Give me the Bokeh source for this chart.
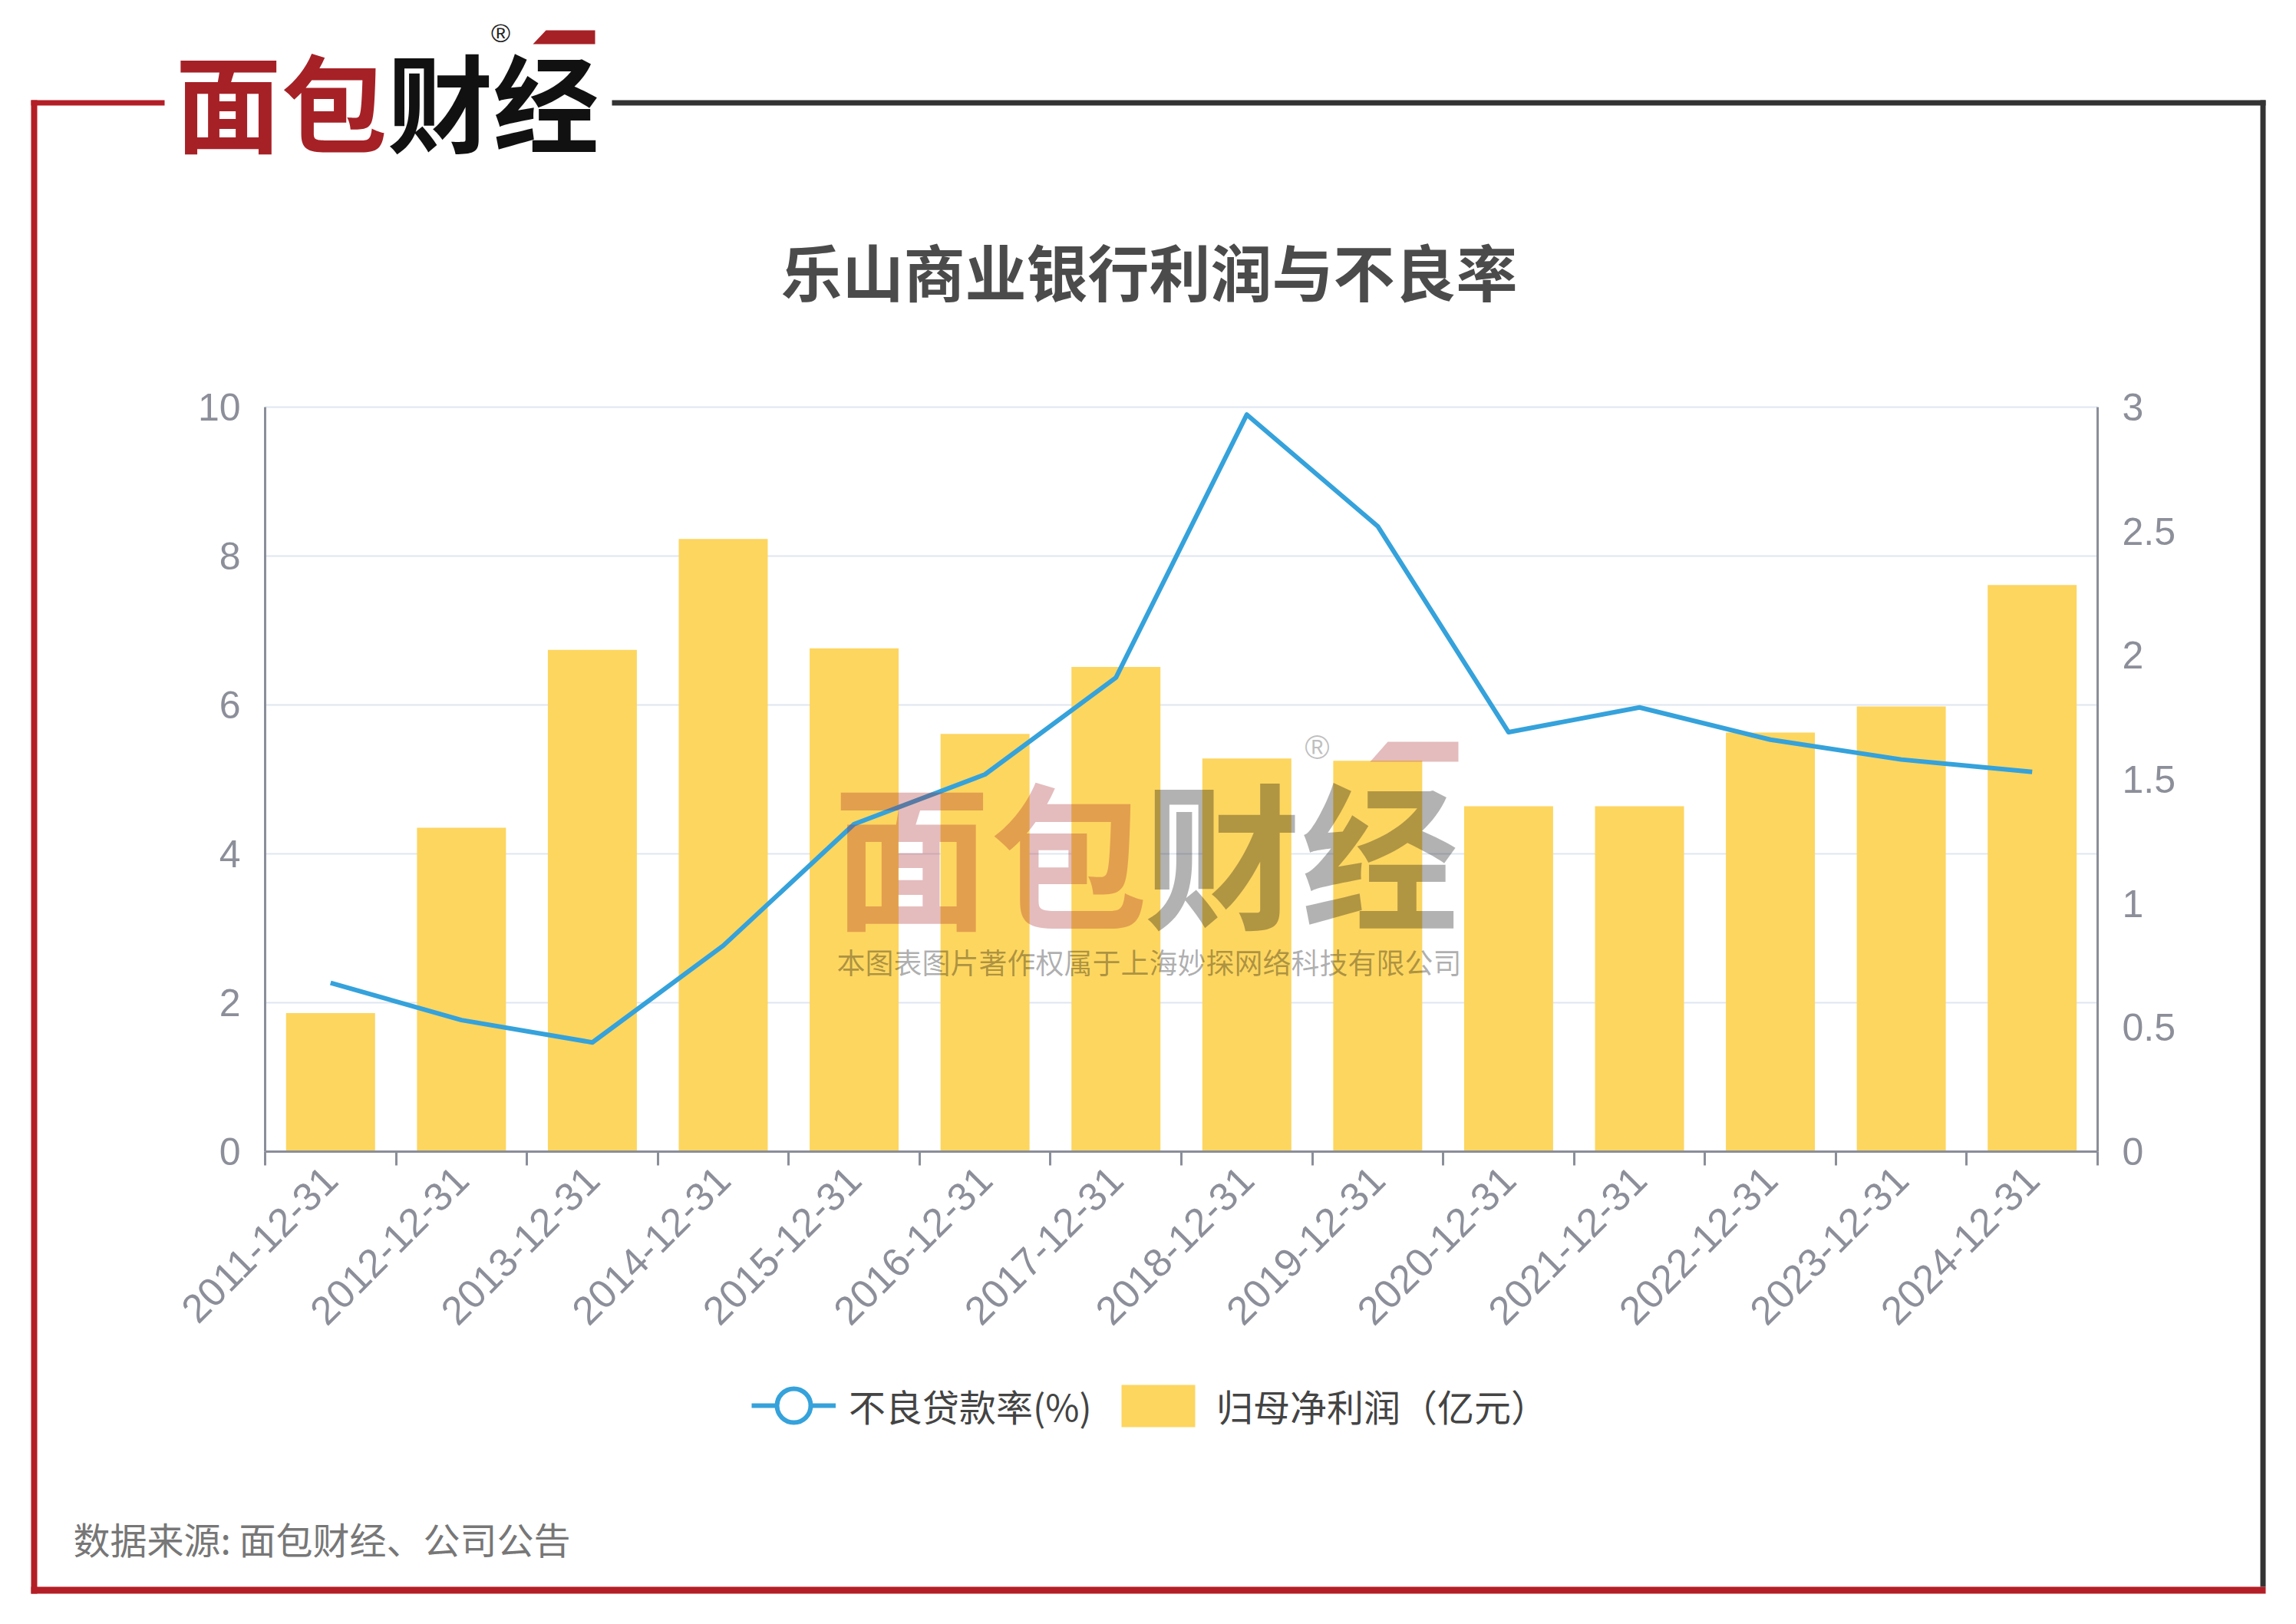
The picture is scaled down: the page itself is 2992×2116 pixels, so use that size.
from math import pi

from bokeh.plotting import figure
from bokeh.models import (Range1d, LinearAxis, FixedTicker,
                          Label, PolyAnnotation, Legend, LegendItem, ColumnDataSource)
from bokeh.embed import file_html
from bokeh.resources import INLINE

# ---------------- data ----------------
categories = ["2011-12-31", "2012-12-31", "2013-12-31", "2014-12-31", "2015-12-31",
              "2016-12-31", "2017-12-31", "2018-12-31", "2019-12-31", "2020-12-31",
              "2021-12-31", "2022-12-31", "2023-12-31", "2024-12-31"]
net_profit = [1.86, 4.35, 6.74, 8.23, 6.76, 5.61, 6.51, 5.28, 5.25, 4.64, 4.64, 5.63, 5.98, 7.61]
npl_ratio = [0.68, 0.53, 0.44, 0.83, 1.32, 1.52, 1.91, 2.97, 2.52, 1.69, 1.79, 1.66, 1.58, 1.53]
left_ticks = [0, 2, 4, 6, 8, 10]
right_ticks = [0, 0.5, 1, 1.5, 2, 2.5, 3]

chart_title = "乐山商业银行利润与不良率"
line_name = "不良贷款率(%)"
bar_name = "归母净利润（亿元）"
source_note = "数据来源: 面包财经、公司公告"
brand_red = "面包"
brand_black = "财经"
watermark_note = "本图表图片著作权属于上海妙探网络科技有限公司"

# ---------------- layout / style ----------------
W, H = 2992, 2116
FL, FR, FT, FB = 345, 2733, 530, 1500          # plot area on the canvas
CJK = "Noto Sans CJK SC"
NUM = "Liberation Sans"
AX = "#8a8e99"
TICK_TXT = "#8c8f99"
BAR = "#FDD660"
BLUE = "#35A2DB"
FRAME_RED = "#B41E26"
LOGO_RED = "#A62126"
DARK = "#333333"

n = len(categories)
centers = [i + 0.5 for i in range(n)]        # category slots on the x scale
boundaries = list(range(n + 1))
y_max = left_ticks[-1]
r_max = right_ticks[-1]

# the frame covers the whole canvas; ranges are chosen so that the
# value axes land on the plot area
px_x = (FR - FL) / n
px_y = (FB - FT) / y_max
px_r = (FB - FT) / r_max
x_range = Range1d(-FL / px_x, n + (W - FR) / px_x)
y_range = Range1d(-(H - FB) / px_y, y_max + FT / px_y)
r_range = Range1d(-(H - FB) / px_r, r_max + FT / px_r)

p = figure(width=W, height=H, x_range=x_range, y_range=y_range,
           output_backend="svg", toolbar_location=None,
           x_axis_location=None, y_axis_location=None,
           min_border=0, min_border_left=0, min_border_right=0,
           min_border_top=0, min_border_bottom=0,
           background_fill_color="white", border_fill_color="white")
p.outline_line_color = None
p.grid.visible = False
p.extra_y_ranges = {"rate": r_range}

# left value axis
ya = LinearAxis(fixed_location=0, bounds=(0, y_max), ticker=FixedTicker(ticks=left_ticks),
                major_tick_line_color=None, minor_tick_line_color=None,
                major_tick_out=0, major_tick_in=0,
                axis_line_color=AX, axis_line_width=3, major_label_standoff=32,
                major_label_text_font=NUM, major_label_text_font_size="50px",
                major_label_text_color=TICK_TXT)
p.add_layout(ya, "left")

# right value axis
ra = LinearAxis(y_range_name="rate", fixed_location=n, bounds=(0, r_max),
                ticker=FixedTicker(ticks=right_ticks),
                major_tick_line_color=None, minor_tick_line_color=None,
                major_tick_out=0, major_tick_in=0,
                axis_line_color=AX, axis_line_width=3, major_label_standoff=32,
                major_label_text_font=NUM, major_label_text_font_size="50px",
                major_label_text_color=TICK_TXT)
p.add_layout(ra, "right")

# category axis: labels at slot centres, ticks at slot boundaries
xa = LinearAxis(fixed_location=0, bounds=(0, n),
                ticker=FixedTicker(ticks=centers, minor_ticks=boundaries),
                major_label_overrides={c: cat for c, cat in zip(centers, categories)},
                major_tick_line_color=None, major_tick_out=0, major_tick_in=0,
                minor_tick_line_color=AX, minor_tick_line_width=3,
                minor_tick_out=18, minor_tick_in=0,
                axis_line_color=AX, axis_line_width=3,
                major_label_orientation=pi / 4, major_label_standoff=10,
                major_label_text_font=NUM, major_label_text_font_size="52px",
                major_label_text_color=TICK_TXT)
p.add_layout(xa, "below")

# horizontal grid lines at the left-axis ticks
p.segment(x0=0, x1=n, y0=left_ticks[1:], y1=left_ticks[1:],
          line_color="#e0e6f1", line_width=2)

# glyphs
src = ColumnDataSource(dict(x=centers, cat=categories, profit=net_profit, npl=npl_ratio))
bars = p.vbar(x="x", top="profit", width=0.68, source=src, fill_color=BAR, line_color=None)
line = p.line(x="x", y="npl", source=src, y_range_name="rate", line_color=BLUE,
              line_width=6, line_join="round")
dot = p.scatter(x=[centers[0]], y=[float("nan")], y_range_name="rate", marker="circle",
                size=44, fill_color="white", line_color=BLUE, line_width=6)


def sx(x):
    return x


def sy(y):
    return H - y


def rect(x0, y0, x1, y1, color, alpha=1.0):
    p.add_layout(PolyAnnotation(xs=[sx(x0), sx(x1), sx(x1), sx(x0)],
                                ys=[sy(y0), sy(y0), sy(y1), sy(y1)],
                                xs_units="screen", ys_units="screen",
                                fill_color=color, fill_alpha=alpha, line_color=None))


def poly(pts, color, alpha=1.0):
    p.add_layout(PolyAnnotation(xs=[sx(a) for a, b in pts], ys=[sy(b) for a, b in pts],
                                xs_units="screen", ys_units="screen",
                                fill_color=color, fill_alpha=alpha, line_color=None))


def label(text, x, y, size, color, bold=False, align="left", alpha=1.0, font=CJK):
    p.add_layout(Label(x=sx(x), y=sy(y), x_units="screen", y_units="screen", text=text,
                       text_font=font, text_font_size=f"{size}px", text_color=color,
                       text_alpha=alpha, text_font_style="bold" if bold else "normal",
                       text_align=align, text_baseline="middle"))


# legends
leg1 = Legend(items=[LegendItem(label=line_name, renderers=[line, dot])],
              location=(sx(979), sy(1891)), glyph_width=110, glyph_height=120,
              label_standoff=17, padding=0, margin=0, spacing=0,
              background_fill_alpha=0, border_line_color=None,
              label_text_font=CJK, label_text_font_size="48px", label_text_color="#444444")
leg2 = Legend(items=[LegendItem(label=bar_name, renderers=[bars])],
              location=(sx(1449), sy(1866)), glyph_width=120, glyph_height=69,
              label_standoff=16, padding=0, margin=0, spacing=0,
              background_fill_alpha=0, border_line_color=None,
              label_text_font=CJK, label_text_font_size="48px", label_text_color="#444444")
p.add_layout(leg1)
p.add_layout(leg2)

# watermark
label(brand_red, 1085, 1105, 205, LOGO_RED, bold=True, alpha=0.3)
label(brand_black, 1490, 1105, 205, "#000000", bold=True, alpha=0.3)
poly([(1808, 966), (1900, 966), (1900, 992), (1785, 992)], LOGO_RED, 0.3)
label("®", 1716, 973, 44, "#000000", alpha=0.25, font=NUM, align="center")
label(watermark_note, 1497, 1252, 37, "#000000", alpha=0.32, align="center")

# title, footer
label(chart_title, 1497, 350, 80, "#4b4b4b", bold=True, align="center")
label(source_note, 95, 2003, 48, "#777777")

# frame
rect(40, 130, 214, 137, FRAME_RED)
rect(40, 130, 48, 2076, FRAME_RED)
rect(40, 2067, 2952, 2076, FRAME_RED)
rect(797, 130, 2952, 137, DARK)
rect(2945, 130, 2952, 2067, DARK)

# top logo
label(brand_red, 228, 127, 138, LOGO_RED, bold=True)
label(brand_black, 504, 127, 138, "#111111", bold=True)
poly([(711, 39), (775, 39), (775, 57), (694, 57)], LOGO_RED)
label("®", 652, 42, 34, "#222222", font=NUM, align="center")

open("out.html", "w").write(file_html(p, INLINE))
